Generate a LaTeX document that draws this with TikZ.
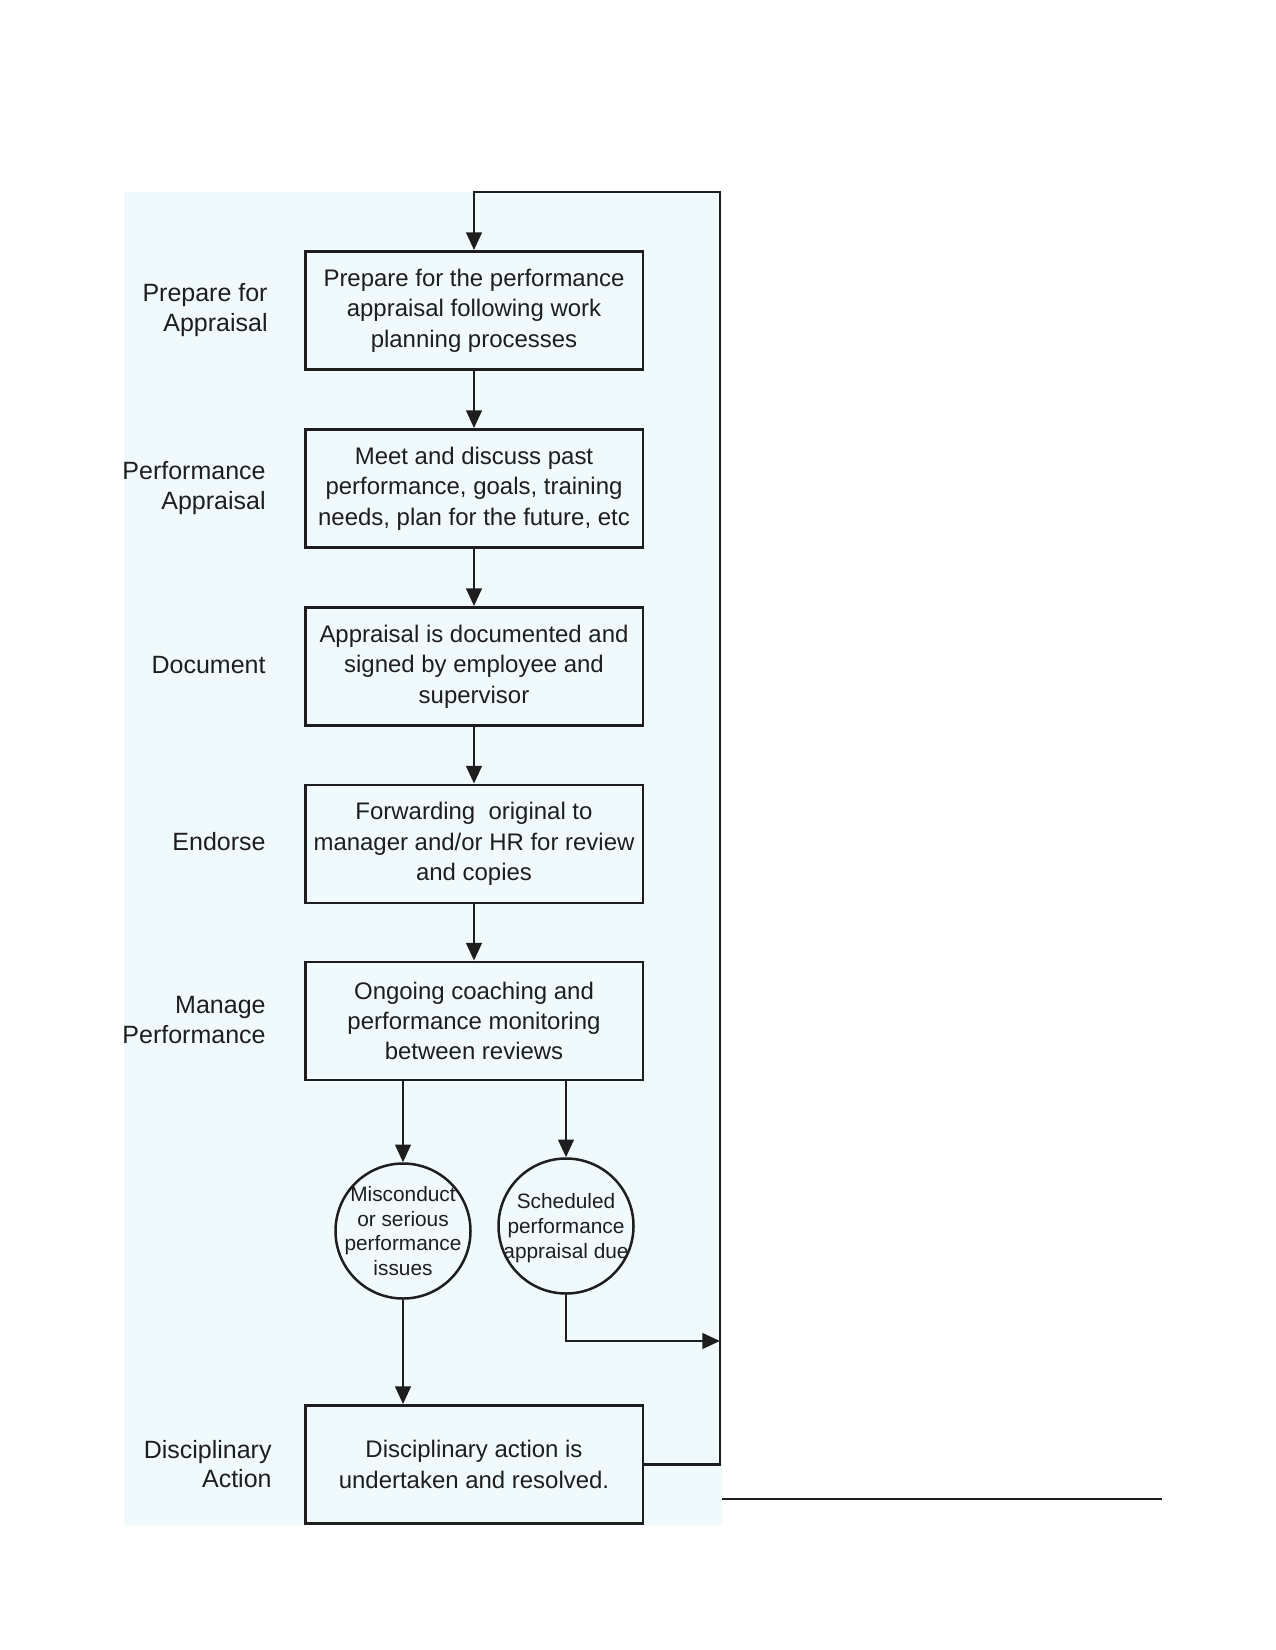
\documentclass[tikz,border=0pt]{standalone}
\usepackage{fontspec}
\setmainfont{Liberation Sans}
\usetikzlibrary{arrows.meta}
\definecolor{bgc}{RGB}{240,250,252}
\definecolor{ink}{RGB}{30,30,30}
\begin{document}
\begin{tikzpicture}[x=0.48pt,y=-0.48pt,
  box/.style={draw=ink, line width=1.2pt, minimum width=162pt, minimum height=56.8pt,
    align=center, inner sep=0pt, text=ink, font=\fontsize{11.5}{14.6}\selectfont},
  circ/.style={draw=ink, line width=1.2pt, circle, minimum size=64.8pt, inner sep=0pt},
  ctext/.style={align=center, inner sep=0pt, text=ink, font=\fontsize{10}{11.8}\selectfont},
  lab/.style={anchor=east, align=right, text=ink, inner sep=0pt, font=\fontsize{12}{14.2}\selectfont},
  arr/.style={draw=ink, line width=1.2pt, -{Triangle[length=8.5pt,width=7.5pt]}},
  ln/.style={draw=ink, line width=1.1pt}]
\useasboundingbox (0,0) rectangle (1275,1650);
\fill[bgc] (124,192) rectangle (722,1525);

\node[box] (b1) at (474,310.5) {Prepare for the performance\\appraisal following work\\planning processes};
\node[box] (b2) at (474,488.5) {Meet and discuss past\\performance, goals, training\\needs, plan for the future, etc};
\node[box] (b3) at (474,666.5) {Appraisal is documented and\\signed by employee and\\supervisor};
\node[box] (b4) at (474,844) {Forwarding\ \ original to\\manager and/or HR for review\\and copies};
\node[box] (b5) at (474,1021) {Ongoing coaching and\\performance monitoring\\between reviews};
\node[box] (b6) at (474,1464.5) {Disciplinary action is\\undertaken and resolved.};

\node[circ] (c1) at (403,1231) {};
\node[ctext] (t1) at (c1) {Misconduct\\or serious\\performance\\issues};
\node[circ] (c2) at (566,1226) {};
\node[ctext] (t2) at ([yshift=-1pt]c2) {Scheduled\\performance\\appraisal due};

\node[lab] (l1) at (268,310) {Prepare for\\Appraisal};
\node[lab] (l2) at (266,488) {Performance\\Appraisal};
\node[lab] (l3) at (266,665) {Document};
\node[lab] (l4) at (266,842) {Endorse};
\node[lab] (l5) at (266,1020) {Manage\\Performance};
\node[lab] (l6) at (272,1464) {Disciplinary\\Action};

\coordinate (loopR) at (720,192);
\coordinate (loopL) at (474,192);
\coordinate (rx) at (720,1341);
\coordinate (h1) at (722,1499);
\coordinate (h2) at (1162,1499);

\draw[arr] (b1) -- (b2);
\draw[arr] (b2) -- (b3);
\draw[arr] (b3) -- (b4);
\draw[arr] (b4) -- (b5);
\draw[arr] (b5.south -| c1) -- (c1);
\draw[arr] (b5.south -| c2) -- (c2);
\draw[arr] (c1) -- (b6.north -| c1);
\draw[arr] (c2.south) |- (rx);
\draw[arr] (b6.east) -- (b6.east -| loopR) -- (loopR) -- (loopL) -- (b1);
\draw[ln, line width=1pt] (h1) -- (h2);
\end{tikzpicture}
\end{document}
